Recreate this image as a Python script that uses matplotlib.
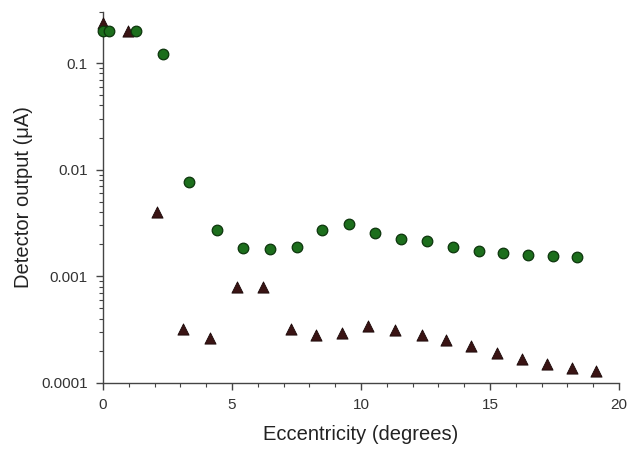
import matplotlib
matplotlib.use("Agg")
import matplotlib.pyplot as plt
from matplotlib.ticker import FixedLocator, LogLocator, NullFormatter, FixedFormatter

plt.rcParams['font.family'] = ['Liberation Sans', 'DejaVu Sans']

green_x = [0, 0.22, 1.28, 2.33, 3.34, 4.43, 5.44, 6.49, 7.53, 8.5, 9.55, 10.56,
           11.57, 12.54, 13.55, 14.56, 15.5, 16.47, 17.44, 18.37]
green_y = [0.2, 0.2, 0.198, 0.122, 0.0076, 0.0027, 0.00184, 0.0018, 0.0019, 0.0027,
           0.0031, 0.00255, 0.00226, 0.00213, 0.00187, 0.00174, 0.00164, 0.00157,
           0.00154, 0.00152]

tri_x = [0, 0.97, 2.1, 3.1, 4.15, 5.2, 6.2, 7.27, 8.27, 9.28, 10.29, 11.33, 12.35,
         13.28, 14.28, 15.29, 16.23, 17.2, 18.17, 19.1]
tri_y = [0.235, 0.2, 0.0040, 0.000324, 0.000266, 0.00079, 0.00079, 0.000324, 0.00028,
         0.000294, 0.00034, 0.000316, 0.00028, 0.000255, 0.000221, 0.000191, 0.000168,
         0.000152, 0.000138, 0.000129]

x_ticks = [0, 5, 10, 15, 20]
y_ticks = [0.0001, 0.001, 0.01, 0.1]
y_labels = ["0.0001", "0.001", "0.01", "0.1"]

fig = plt.figure(figsize=(6.3, 4.5), dpi=100)
ax = fig.add_axes([0.1635, 0.149, 0.819, 0.824])

ax.scatter(tri_x, tri_y, marker='^', s=65, color='#3a1414', edgecolors='#1a0808',
           linewidths=0.6, zorder=3, clip_on=False)
ax.scatter(green_x, green_y, marker='o', s=58, color='#1c6e1c', edgecolors='#0c350c',
           linewidths=0.9, zorder=4, clip_on=False)

ax.set_yscale('log')
ax.set_xlim(0, 20)
ax.set_ylim(0.0001, 0.3)

ax.xaxis.set_major_locator(FixedLocator(x_ticks))
ax.xaxis.set_minor_locator(FixedLocator([i for i in range(21) if i % 5]))
ax.yaxis.set_major_locator(FixedLocator(y_ticks))
ax.yaxis.set_major_formatter(FixedFormatter(y_labels))
ax.yaxis.set_minor_locator(LogLocator(base=10, subs=range(2, 10)))
ax.yaxis.set_minor_formatter(NullFormatter())

for s in ['top', 'right']:
    ax.spines[s].set_visible(False)
for s in ['left', 'bottom']:
    ax.spines[s].set_color('#444444')
    ax.spines[s].set_linewidth(1.0)

ax.tick_params(which='major', direction='out', length=5, width=1, color='#444444',
               labelsize=11, labelcolor='#333333', pad=6)
ax.tick_params(which='minor', direction='out', length=3, width=0.8, color='#444444')

ax.set_xlabel('Eccentricity (degrees)', fontsize=14.5, color='#222222', labelpad=9)
ax.set_ylabel('Detector output (\u03bcA)', fontsize=14.5, color='#222222', labelpad=6)

fig.savefig('out.png', dpi=100)
